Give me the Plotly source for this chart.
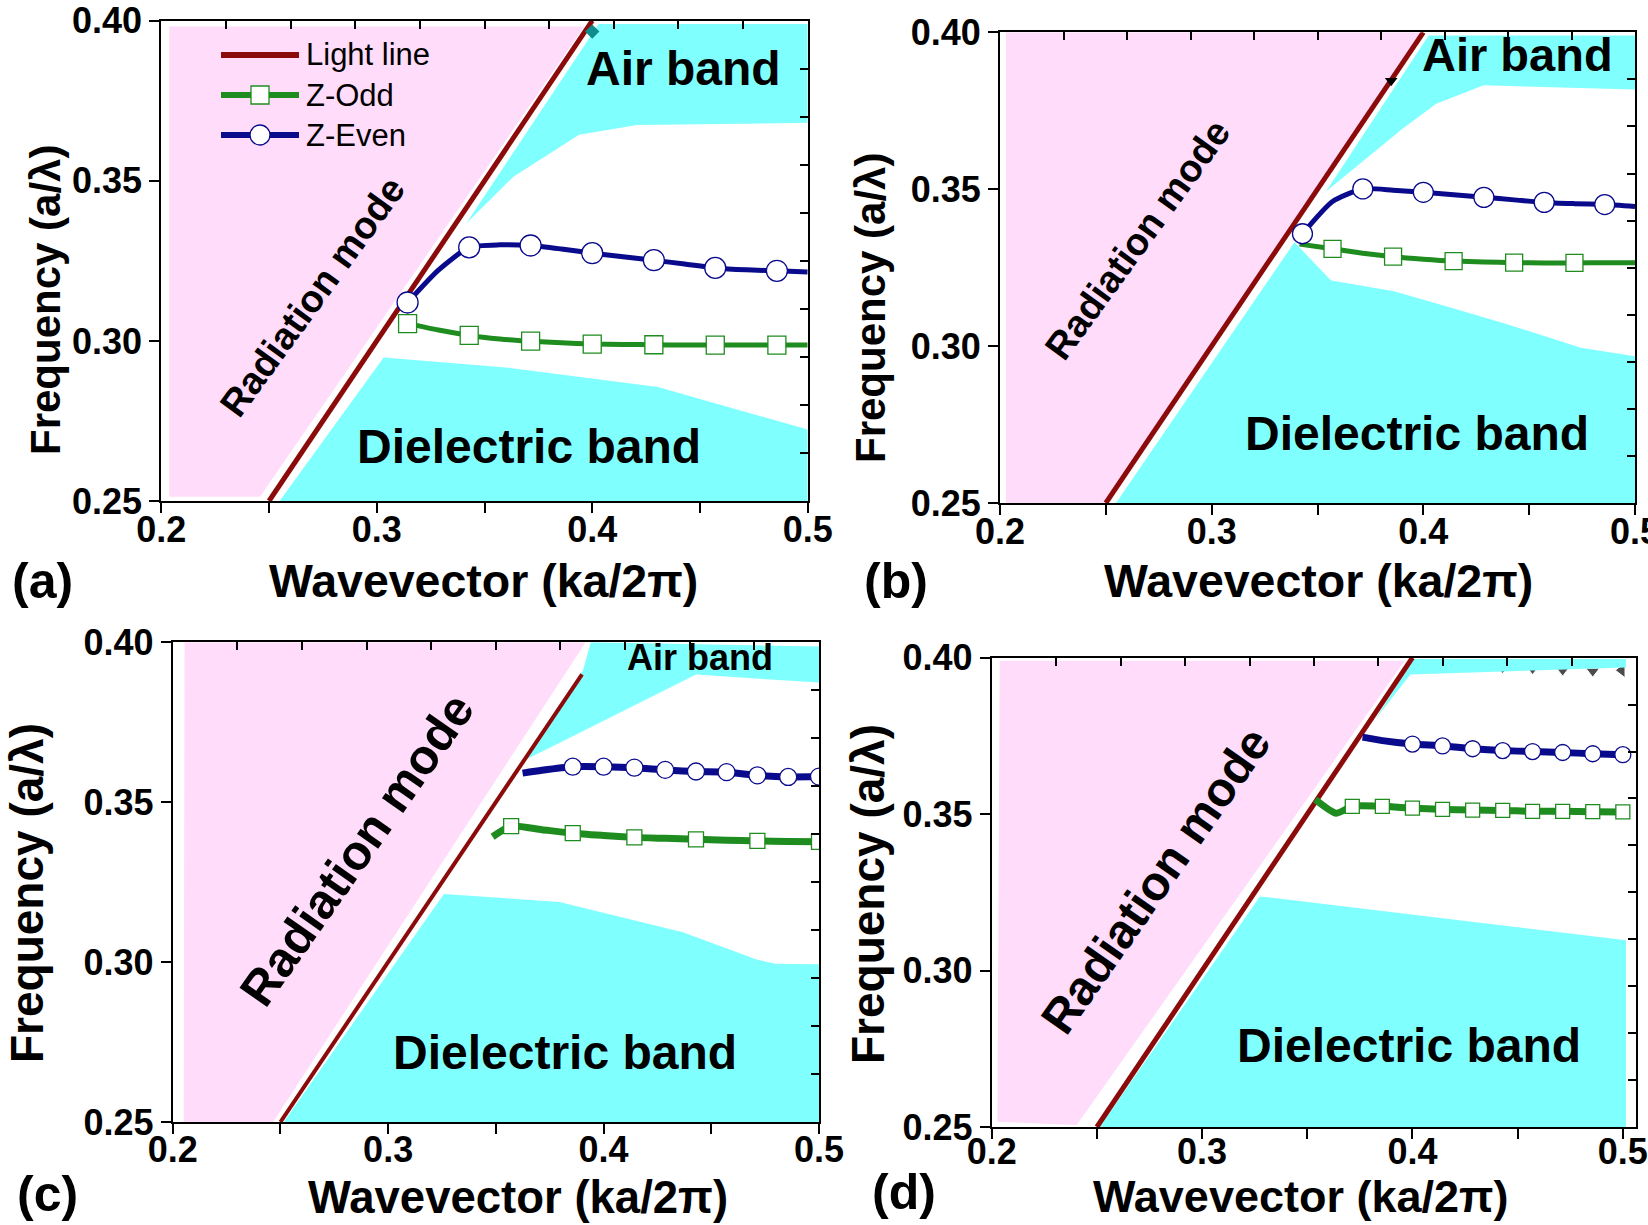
import plotly.graph_objects as go

W, H = 1648, 1225
FONT = "Liberation Sans, Arial, sans-serif"
PINK = "#FFDCFA"
CYAN = "#80FFFF"
RED = "#8B0A0A"
NAVY = "#0A0A8C"
GREEN = "#1E8C1E"

# ---------------- data ----------------
# Panel (a)
pink_a_k = [0.2037, 0.2458, 0.3963, 0.2037]
pink_a_f = [0.2513, 0.2513, 0.3982, 0.3982]
diel_a_k = [0.2549, 0.3032, 0.3598, 0.4305, 0.5, 0.5]
diel_a_f = [0.25, 0.2948, 0.2917, 0.2856, 0.2723, 0.25]
air_a_k = [0.3415, 0.3634, 0.3939, 0.4207, 0.5, 0.5, 0.403]
air_a_f = [0.3367, 0.3513, 0.3644, 0.3674, 0.3681, 0.399, 0.399]
light_a_k = [0.25, 0.40]
even_a_k = [0.3143, 0.3286, 0.3429, 0.3571, 0.3714, 0.3857, 0.4, 0.4143, 0.4286, 0.4429, 0.4571, 0.4714, 0.4857, 0.5]
even_a_f = [0.3120, 0.3221, 0.3292, 0.3300, 0.3298, 0.3287, 0.3274, 0.3263, 0.3252, 0.3240, 0.3228, 0.3222, 0.3219, 0.3215]
even_a_mk = [1, 0, 1, 0, 1, 0, 1, 0, 1, 0, 1, 0, 1, 0]
odd_a_k = [0.3143, 0.3286, 0.3429, 0.3571, 0.3714, 0.3857, 0.4, 0.4143, 0.4286, 0.4429, 0.4571, 0.4714, 0.4857, 0.5]
odd_a_f = [0.3054, 0.3034, 0.3017, 0.3006, 0.2999, 0.2994, 0.2990, 0.2989, 0.2988, 0.2987, 0.2987, 0.2987, 0.2987, 0.2987]
odd_a_mk = [1, 0, 1, 0, 1, 0, 1, 0, 1, 0, 1, 0, 1, 0]
extra_a_k = [0.400]
extra_a_f = [0.3966]

# Panel (b)
pink_b_k = [0.2028, 0.25, 0.40, 0.2028]
pink_b_f = [0.2492, 0.25, 0.40, 0.40]
diel_b_k = [0.2546, 0.3391, 0.3564, 0.3862, 0.4148, 0.4396, 0.4744, 0.5, 0.5]
diel_b_f = [0.2498, 0.3331, 0.3209, 0.3175, 0.3119, 0.3070, 0.2995, 0.2968, 0.25]
air_b_k = [0.3540, 0.3900, 0.4061, 0.4285, 0.5, 0.5, 0.4025]
air_b_f = [0.3493, 0.3692, 0.3772, 0.3831, 0.3818, 0.399, 0.399]
light_b_k = [0.25, 0.40]
even_b_k = [0.3429, 0.3571, 0.3714, 0.3857, 0.4, 0.4143, 0.4286, 0.4429, 0.4571, 0.4714, 0.4857, 0.5]
even_b_f = [0.3358, 0.3461, 0.3501, 0.3497, 0.3490, 0.3482, 0.3474, 0.3466, 0.3458, 0.3454, 0.3451, 0.3445]
even_b_mk = [1, 0, 1, 0, 1, 0, 1, 0, 1, 0, 1, 0]
odd_b_k = [0.3415, 0.3571, 0.3714, 0.3857, 0.4, 0.4143, 0.4286, 0.4429, 0.4571, 0.4714, 0.4857, 0.5]
odd_b_f = [0.3325, 0.3310, 0.3296, 0.3285, 0.3277, 0.3271, 0.3268, 0.3266, 0.3265, 0.3265, 0.3266, 0.3266]
odd_b_mk = [0, 1, 0, 1, 0, 1, 0, 1, 0, 1, 0, 0]
extra_b_k = [0.3848]
extra_b_f = [0.3846]

# Panel (c)
pink_c_k = [0.2051, 0.2466, 0.3917, 0.2055]
pink_c_f = [0.25, 0.25, 0.40, 0.40]
diel_c_k = [0.2515, 0.3259, 0.3795, 0.4368, 0.4710, 0.4795, 0.5, 0.5]
diel_c_f = [0.25, 0.3213, 0.3188, 0.3093, 0.3008, 0.2995, 0.2993, 0.25]
air_c_k = [0.3637, 0.3905, 0.3941, 0.5, 0.5, 0.4429, 0.3759]
air_c_f = [0.3633, 0.3913, 0.40, 0.3987, 0.3874, 0.3899, 0.3673]
light_c_k = [0.25, 0.39]
even_c_k = [0.3624, 0.3714, 0.3857, 0.4, 0.4143, 0.4286, 0.4429, 0.4571, 0.4714, 0.4857, 0.5]
even_c_f = [0.3591, 0.3600, 0.3611, 0.3611, 0.3608, 0.3601, 0.3596, 0.3594, 0.3584, 0.3579, 0.3580]
even_c_mk = [0, 0, 1, 1, 1, 1, 1, 1, 1, 1, 1]
odd_c_k = [0.3485, 0.3571, 0.3714, 0.3857, 0.4, 0.4143, 0.4286, 0.4429, 0.4571, 0.4714, 0.4857, 0.5]
odd_c_f = [0.3392, 0.3425, 0.3414, 0.3403, 0.3396, 0.3390, 0.3387, 0.3384, 0.3381, 0.3379, 0.3377, 0.3376]
odd_c_mk = [0, 1, 0, 1, 0, 1, 0, 1, 0, 1, 0, 1]

# Panel (d)
pink_d_k = [0.2027, 0.2404, 0.3963, 0.2038]
pink_d_f = [0.2517, 0.2506, 0.399, 0.399]
diel_d_k = [0.2513, 0.3275, 0.5015, 0.5015]
diel_d_f = [0.25, 0.3237, 0.3097, 0.25]
air_d_k = [0.382, 0.4005, 0.5015, 0.5015, 0.399]
air_d_f = [0.380, 0.3996, 0.3996, 0.3969, 0.3946]
light_d_k = [0.25, 0.40]
even_d_k = [0.3763, 0.3857, 0.4, 0.4143, 0.4286, 0.4429, 0.4571, 0.4714, 0.4857, 0.5]
even_d_f = [0.3746, 0.3735, 0.3724, 0.3718, 0.3709, 0.3703, 0.3700, 0.3697, 0.3693, 0.3690]
even_d_mk = [0, 0, 1, 1, 1, 1, 1, 1, 1, 1]
odd_d_k = [0.3538, 0.3638, 0.3714, 0.3857, 0.4, 0.4143, 0.4286, 0.4429, 0.4571, 0.4714, 0.4857, 0.5]
odd_d_f = [0.3547, 0.3503, 0.3525, 0.3525, 0.3519, 0.3515, 0.3513, 0.3512, 0.3509, 0.3509, 0.3508, 0.3507]
odd_d_mk = [0, 0, 1, 1, 1, 1, 1, 1, 1, 1, 1, 1]
tri_d_k = [0.4429, 0.4571, 0.4714, 0.4857, 0.4995]
tri_d_f = [0.3957, 0.3957, 0.3957, 0.3957, 0.3960]

x_ticks = [0.2, 0.3, 0.4, 0.5]
y_ticks = [0.25, 0.30, 0.35, 0.40]
legend_names = ["Light line", "Z-Odd", "Z-Even"]

# ---------------- layout geometry (pixels) ----------------
panels = [
    dict(tag="(a)", px=(161.3, 807.7, 20.7, 501.0), xmax=0.5, so=-14,
         pink=(pink_a_k, pink_a_f), diel=(diel_a_k, diel_a_f), air=(air_a_k, air_a_f),
         light=light_a_k, even=(even_a_k, even_a_f, even_a_mk), odd=(odd_a_k, odd_a_f, odd_a_mk),
         lw=5, cs=21, ss=18, llw=5,
         rad=(0.2704, 0.3139, -54, 38), airlab=(0.4423, 0.3851, 48), diellab=(0.3708, 0.2670, 48),
         xt=(484, 581, 46.5), yt=(45, 300, 42), lab=(42, 581)),
    dict(tag="(b)", px=(1000.0, 1635.0, 32.3, 503.0), xmax=0.5, so=-14,
         pink=(pink_b_k, pink_b_f), diel=(diel_b_k, diel_b_f), air=(air_b_k, air_b_f),
         light=light_b_k, even=(even_b_k, even_b_f, even_b_mk), odd=(odd_b_k, odd_b_f, odd_b_mk),
         lw=5, cs=20, ss=17, llw=5,
         rad=(0.2648, 0.3339, -54, 38), airlab=(0.4445, 0.3929, 47), diellab=(0.3968, 0.2723, 48),
         xt=(1318, 581, 46.5), yt=(870, 308, 42), lab=(896, 581)),
    dict(tag="(c)", px=(172.7, 819.0, 642.3, 1122.0), xmax=0.5, so=-15,
         pink=(pink_c_k, pink_c_f), diel=(diel_c_k, diel_c_f), air=(air_c_k, air_c_f),
         light=light_c_k, even=(even_c_k, even_c_f, even_c_mk), odd=(odd_c_k, odd_c_f, odd_c_mk),
         lw=7, cs=17, ss=15, llw=4,
         rad=(0.2857, 0.3353, -55, 49), airlab=(0.4449, 0.3951, 36), diellab=(0.3819, 0.2716, 48),
         xt=(518, 1197, 45.5), yt=(27, 893, 46), lab=(47, 1194)),
    dict(tag="(d)", px=(991.7, 1636.3, 657.7, 1127.0), xmax=0.5064, so=-18,
         pink=(pink_d_k, pink_d_f), diel=(diel_d_k, diel_d_f), air=(air_d_k, air_d_f),
         light=light_d_k, even=(even_d_k, even_d_f, even_d_mk), odd=(odd_d_k, odd_d_f, odd_d_mk),
         lw=7, cs=16, ss=14, llw=5,
         rad=(0.2780, 0.3287, -55, 48), airlab=None, diellab=(0.3983, 0.2760, 48),
         xt=(1300, 1196, 45), yt=(868, 894, 46), lab=(904, 1192)),
]


def px2x(p):
    return p / W


def py2y(p):
    return 1 - p / H


fig = go.Figure()
layout = dict(width=W, height=H, autosize=False, margin=dict(l=0, r=0, t=0, b=0, pad=0),
              paper_bgcolor="white", plot_bgcolor="white", showlegend=False)
annotations = []
shapes = []

for i, P in enumerate(panels, start=1):
    xa = "x" if i == 1 else f"x{i}"
    ya = "y" if i == 1 else f"y{i}"
    xm, ym = f"x{i+4}", f"y{i+4}"
    x0, x1, y0, y1 = P["px"]

    def add(tr):
        tr.update(xaxis=xa, yaxis=ya, showlegend=False, hoverinfo="skip")
        fig.add_trace(tr)

    add(go.Scatter(x=P["pink"][0], y=P["pink"][1], fill="toself", fillcolor=PINK,
                   mode="none"))
    if i == 4:
        add(go.Scatter(x=tri_d_k, y=tri_d_f, mode="markers",
                       marker=dict(symbol=["triangle-down"] * 4 + ["triangle-left"],
                                   size=[5, 7, 10, 12, 13], color="black")))
    add(go.Scatter(x=P["diel"][0], y=P["diel"][1], fill="toself", fillcolor=CYAN, mode="none"))
    add(go.Scatter(x=P["air"][0], y=P["air"][1], fill="toself", fillcolor=CYAN, mode="none"))
    add(go.Scatter(x=P["light"], y=P["light"], mode="lines",
                   line=dict(color=RED, width=P["llw"])))
    for key, col, sym, sz in (("odd", GREEN, "square", P["ss"]), ("even", NAVY, "circle", P["cs"])):
        kk, ff, mk = P[key]
        add(go.Scatter(x=kk, y=ff, mode="lines",
                       line=dict(color=col, width=P["lw"], shape="spline", smoothing=0.6)))
        add(go.Scatter(x=[k for k, m in zip(kk, mk) if m], y=[f for f, m in zip(ff, mk) if m],
                       mode="markers",
                       marker=dict(symbol=sym, size=sz, color="white",
                                   line=dict(color=col, width=1.3))))
    if i == 1:
        add(go.Scatter(x=extra_a_k, y=extra_a_f, mode="markers",
                       marker=dict(symbol="diamond", size=11, color="#0F8C8C")))
    if i == 2:
        add(go.Scatter(x=extra_b_k, y=extra_b_f, mode="markers",
                       marker=dict(symbol="triangle-down", size=11, color="black")))
    # dummy trace for mirror axes
    fig.add_trace(go.Scatter(x=[None], y=[None], xaxis=xm, yaxis=ym, showlegend=False,
                             hoverinfo="skip"))

    axis_common = dict(showline=True, linecolor="black", linewidth=2, mirror=True,
                       showgrid=False, zeroline=False, ticks="outside", ticklen=10,
                       tickwidth=2, tickcolor="black", automargin=False,
                       ticklabeloverflow="allow",
                       tickfont=dict(family=FONT, size=36, color="black", weight="bold"))
    layout["xaxis" if i == 1 else f"xaxis{i}"] = dict(
        axis_common, domain=[px2x(x0), px2x(x1)], range=[0.2, P["xmax"]], anchor=ya,
        tickmode="array", tickvals=x_ticks, ticktext=[f"{v:.1f}" for v in x_ticks],
        ticklabelstandoff=P["so"],
        minor=dict(tickmode="array", tickvals=[0.25, 0.35, 0.45], ticks="outside",
                   ticklen=10, tickwidth=2, tickcolor="black", showgrid=False))
    layout["yaxis" if i == 1 else f"yaxis{i}"] = dict(
        axis_common, domain=[py2y(y1), py2y(y0)], range=[0.25, 0.40], anchor=xa,
        tickmode="array", tickvals=y_ticks, ticktext=[f"{v:.2f}" for v in y_ticks])
    mirror_common = dict(ticks="inside", ticklen=8, tickwidth=2, tickcolor="black",
                         showticklabels=False, showgrid=False, zeroline=False,
                         showline=False, automargin=False, tickmode="linear")
    layout[f"xaxis{i+4}"] = dict(mirror_common, overlaying=xa, side="top", anchor=ym,
                                 range=[0.2, 0.5], tick0=0.2, dtick=0.03)
    layout[f"yaxis{i+4}"] = dict(mirror_common, overlaying=ya, side="right", anchor=xm,
                                 range=[0.25, 0.40], tick0=0.25, dtick=0.015)

    bold = dict(family=FONT, color="black", weight="bold")
    ctr = dict(xanchor="center", yanchor="middle", showarrow=False)
    rx, ry, ra, rs = P["rad"]
    annotations.append(dict(ctr, x=rx, y=ry, xref=xa, yref=ya, text="Radiation mode",
                            textangle=ra, font=dict(bold, size=rs)))
    if P["airlab"]:
        ax_, ay_, asz = P["airlab"]
        annotations.append(dict(ctr, x=ax_, y=ay_, xref=xa, yref=ya, text="Air band",
                                font=dict(bold, size=asz)))
    dx_, dy_, dsz = P["diellab"]
    annotations.append(dict(ctr, x=dx_, y=dy_, xref=xa, yref=ya, text="Dielectric band",
                            font=dict(bold, size=dsz)))
    tx, ty, ts = P["xt"]
    annotations.append(dict(ctr, x=px2x(tx), y=py2y(ty), xref="paper", yref="paper",
                            text="Wavevector (ka/2π)", font=dict(bold, size=ts)))
    vx, vy, vs = P["yt"]
    annotations.append(dict(ctr, x=px2x(vx), y=py2y(vy), xref="paper", yref="paper",
                            text="Frequency (a/λ)", textangle=-90, font=dict(bold, size=vs)))
    lx, ly = P["lab"]
    annotations.append(dict(ctr, x=px2x(lx), y=py2y(ly), xref="paper", yref="paper",
                            text=P["tag"], font=dict(bold, size=50)))

# legend of panel (a), drawn by hand
leg_x0, leg_x1, leg_tx = 221, 299, 304
leg_rows = [55, 95, 135]
leg_cols = [RED, GREEN, NAVY]
for name, col, yy, j in zip(legend_names, leg_cols, leg_rows, range(3)):
    shapes.append(dict(type="line", xref="paper", yref="paper", x0=px2x(leg_x0), x1=px2x(leg_x1),
                       y0=py2y(yy), y1=py2y(yy), line=dict(color=col, width=6)))
    cx = (leg_x0 + leg_x1) / 2
    if j == 1:
        s = 9
        shapes.append(dict(type="rect", xref="paper", yref="paper", x0=px2x(cx - s), x1=px2x(cx + s),
                           y0=py2y(yy + s), y1=py2y(yy - s), fillcolor="white",
                           line=dict(color=GREEN, width=1.3)))
    if j == 2:
        s = 10
        shapes.append(dict(type="circle", xref="paper", yref="paper", x0=px2x(cx - s), x1=px2x(cx + s),
                           y0=py2y(yy + s), y1=py2y(yy - s), fillcolor="white",
                           line=dict(color=NAVY, width=1.3)))
    annotations.append(dict(x=px2x(leg_tx), y=py2y(yy), xref="paper", yref="paper", text=name,
                            xanchor="left", yanchor="middle", showarrow=False,
                            font=dict(family=FONT, size=31, color="black")))

layout["annotations"] = annotations
layout["shapes"] = shapes
fig.update_layout(**layout)
fig.write_html("out.html", config={"displayModeBar": False},
               post_script="document.body.style.margin='0px';document.body.style.overflow='hidden';")
